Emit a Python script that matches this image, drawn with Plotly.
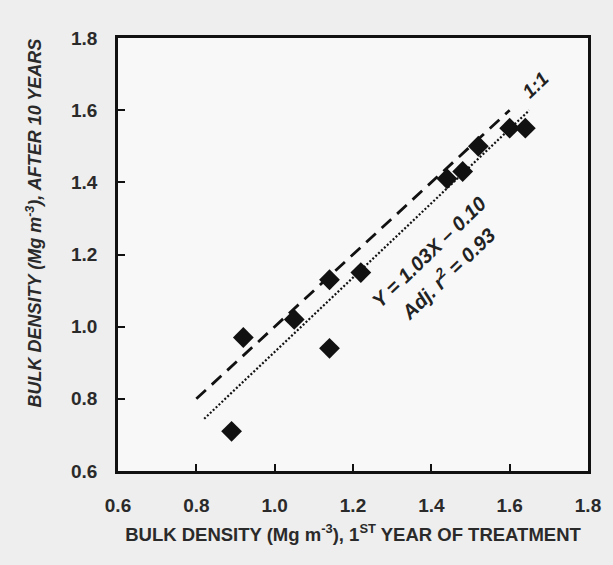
import numpy as np
import plotly.graph_objects as go

# Bulk density (Mg m-3): first year of treatment vs. after 10 years
bd_first_year = [0.89, 0.92, 1.05, 1.14, 1.14, 1.22, 1.44, 1.48, 1.52, 1.60, 1.64]
bd_after_10yr = [0.71, 0.97, 1.02, 0.94, 1.13, 1.15, 1.41, 1.43, 1.50, 1.55, 1.55]

# Fitted regression Y = a*X + b
fit_slope = 1.03
fit_intercept = -0.10
fit_x_range = [0.82, 1.65]
one_to_one_range = [0.80, 1.60]

tick_vals = [0.6, 0.8, 1.0, 1.2, 1.4, 1.6, 1.8]
tick_text = ["0.6", "0.8", "1.0", "1.2", "1.4", "1.6", "1.8"]

FONT = "Liberation Sans, Arial, sans-serif"
INK = "#111111"

W, H = 613, 565
M = dict(l=118, r=22, t=38, b=94)
plot_w = W - M["l"] - M["r"]
plot_h = H - M["t"] - M["b"]

fit_x = np.array(fit_x_range)
fit_y = fit_slope * fit_x + fit_intercept

fig = go.Figure()

# 1:1 reference line
fig.add_trace(go.Scatter(
    x=one_to_one_range, y=one_to_one_range, mode="lines",
    line=dict(color=INK, width=2.8, dash="13px,8px"),
    hoverinfo="skip", showlegend=False,
))

# Regression line
fig.add_trace(go.Scatter(
    x=fit_x, y=fit_y, mode="lines",
    line=dict(color=INK, width=2.2, dash="2px,2px"),
    hoverinfo="skip", showlegend=False,
))

# Observations
fig.add_trace(go.Scatter(
    x=bd_first_year, y=bd_after_10yr, mode="markers",
    marker=dict(symbol="diamond", size=16, color=INK, line=dict(width=0)),
    showlegend=False,
))

fig.add_annotation(
    x=1.665, y=1.668, xref="x", yref="y", text="<b><i>1:1</i></b>",
    showarrow=False, textangle=-44,
    font=dict(family=FONT, size=19, color="#222222"),
)
fig.add_annotation(
    x=1.394, y=1.208, xref="x", yref="y",
    text="<b><i>Y = %.2fX \u2013 %.2f</i></b>" % (fit_slope, abs(fit_intercept)),
    showarrow=False, textangle=-44,
    font=dict(family=FONT, size=20, color="#222222"),
)
fig.add_annotation(
    x=1.44, y=1.15, xref="x", yref="y",
    text="<b><i>Adj. r<sup>2</sup> = 0.93</i></b>",
    showarrow=False, textangle=-44,
    font=dict(family=FONT, size=20, color="#222222"),
)

# Vertical axis title, set a little above the plot's middle
fig.add_annotation(
    x=(33 - M["l"]) / plot_w, y=(H - M["b"] - 223) / plot_h,
    xref="paper", yref="paper",
    text="<b><i>BULK DENSITY (Mg m<sup>-3</sup>), AFTER 10 YEARS</i></b>",
    showarrow=False, textangle=-90, xanchor="center", yanchor="middle",
    font=dict(family=FONT, size=18, color="#2a2a2a"),
)

axis_common = dict(
    range=[0.6, 1.8], tickvals=tick_vals, ticktext=tick_text,
    ticks="inside", ticklen=7, tickwidth=2, tickcolor=INK,
    showline=True, linewidth=2.5, linecolor=INK, mirror=True,
    showgrid=False, zeroline=False,
    tickfont=dict(family=FONT, size=19, color="#2a2a2a", weight="bold"),
)

fig.update_xaxes(
    **axis_common,
    ticklabelstandoff=15,
    title=dict(
        text="<b>BULK DENSITY (Mg m<sup>-3</sup>), 1<sup>ST</sup> YEAR OF TREATMENT</b>",
        font=dict(family=FONT, size=18.5, color="#2a2a2a"), standoff=14,
    ),
)
fig.update_yaxes(**axis_common, ticklabelstandoff=14)

fig.update_layout(
    width=W, height=H, margin=M,
    paper_bgcolor="#eeeeee", plot_bgcolor="#f8f8f8",
)

fig.write_html("out.html")
